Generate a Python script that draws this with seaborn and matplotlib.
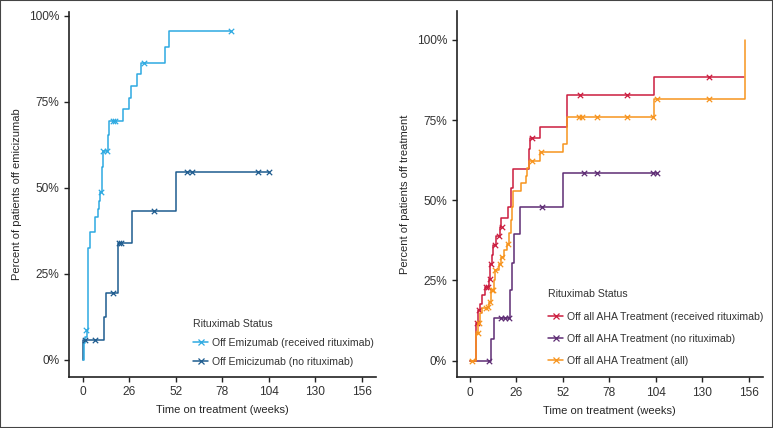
import matplotlib
matplotlib.use("Agg")
import matplotlib.pyplot as plt
import seaborn as sns
import numpy as np
import pandas as pd
from matplotlib.lines import Line2D
from matplotlib.ticker import PercentFormatter
from matplotlib.patches import Rectangle

# ============================================================================
# DATA (weeks, percent off)
# ============================================================================

# Left panel: off emicizumab
emi_rtx_t = [0, 0.3, 0.7, 1.2, 2.0, 2.8, 3.9, 6.8, 8.2, 9.1, 9.5, 10.4, 11.0, 13.8, 14.5,
             22.2, 25.9, 27.0, 30.4, 32.6, 45.9, 48.0, 82.6]
emi_rtx_y = [0, 3.0, 5.0, 6.8, 8.8, 32.5, 37.1, 41.5, 43.9, 46.3, 48.7, 56.0, 60.8, 65.5, 69.5,
             72.9, 76.1, 79.5, 83.0, 86.4, 90.9, 95.6, 95.6]
emi_rtx_cens_t = [1.6, 9.9, 11.4, 13.2, 16.6, 17.9, 34.0, 82.6]
emi_rtx_cens_y = [8.8, 48.7, 60.8, 60.8, 69.5, 69.5, 86.4, 95.6]

emi_no_t = [0, 0.2, 11.9, 12.9, 19.7, 27.4, 52.0, 103.9]
emi_no_y = [0, 5.8, 12.5, 19.4, 33.9, 43.3, 54.7, 54.7]
emi_no_cens_t = [1.0, 6.9, 16.9, 20.1, 21.2, 39.7, 58.0, 61.1, 97.7, 103.9]
emi_no_cens_y = [5.8, 5.8, 19.4, 33.9, 33.9, 43.3, 54.7, 54.7, 54.7, 54.7]

# Right panel: off all AHA treatment
aha_rtx_t = [0, 3.2, 3.5, 4.7, 5.6, 6.9, 8.4, 10.8, 11.2, 12.5, 13.0, 14.5, 16.8, 17.3,
             21.1, 22.9, 24.2, 32.8, 33.6, 39.1, 54.1, 103.1, 153.4]
aha_rtx_y = [0, 5.4, 11.7, 15.8, 17.7, 20.5, 23.1, 25.4, 30.2, 32.9, 35.9, 38.7, 41.5, 44.6,
             47.8, 53.8, 59.8, 66.0, 69.3, 72.7, 82.9, 88.5, 88.5]
aha_rtx_cens_t = [3.7, 5.2, 9.0, 10.3, 11.0, 11.7, 14.0, 16.4, 17.7, 34.5, 61.5, 87.6, 133.5]
aha_rtx_cens_y = [11.7, 15.8, 23.1, 23.1, 25.4, 30.2, 35.9, 38.7, 41.5, 69.3, 82.9, 82.9, 88.5]

aha_no_t = [0, 11.7, 13.2, 22.4, 23.7, 24.6, 27.9, 52.2, 104.4]
aha_no_y = [0, 6.7, 13.4, 22.0, 30.4, 39.4, 48.0, 58.4, 58.4]
aha_no_cens_t = [10.8, 17.3, 19.8, 22.0, 40.1, 63.8, 70.9, 102.2, 104.4]
aha_no_cens_y = [0, 13.4, 13.4, 13.4, 48.0, 58.4, 58.4, 58.4, 58.4]

aha_all_t = [0, 3.2, 3.6, 4.6, 5.6, 6.5, 9.8, 10.8, 11.6, 13.6, 13.9, 16.4, 17.5, 19.2,
             20.5, 22.0, 22.8, 23.7, 24.2, 28.3, 31.1, 32.0, 33.0, 39.1, 52.2, 54.1,
             103.1, 153.8, 153.8]
aha_all_y = [0, 5.4, 8.5, 11.7, 14.8, 16.3, 16.6, 18.2, 22.0, 25.0, 28.1, 30.2, 32.4, 34.5,
             36.4, 39.7, 43.9, 48.0, 53.0, 55.3, 57.5, 60.0, 62.3, 65.0, 67.5, 75.8,
             81.7, 81.7, 100.0]
aha_all_cens_t = [0.9, 4.3, 5.2, 9.0, 10.3, 11.2, 12.3, 13.0, 14.2, 17.0, 17.9, 21.4,
                  34.5, 40.0, 61.2, 62.8, 71.2, 87.6, 102.5, 104.4, 133.7]
aha_all_cens_y = [0, 8.5, 11.7, 16.3, 16.6, 18.2, 22.0, 22.0, 28.1, 30.2, 32.4, 36.4,
                  62.3, 65.0, 75.8, 75.8, 75.8, 75.8, 75.8, 81.7, 81.7]

x_ticks = [0, 26, 52, 78, 104, 130, 156]
y_ticks = [0, 25, 50, 75, 100]

C_LIGHT = "#2EAAE1"
C_DARK = "#1E5C8F"
C_RED = "#CC1D3F"
C_PURPLE = "#5E2C74"
C_ORANGE = "#F7941E"

# ============================================================================
# STYLE
# ============================================================================

sns.set_style("ticks")
plt.rcParams['font.family'] = ['Liberation Sans', 'DejaVu Sans']
plt.rcParams['axes.edgecolor'] = '#222222'
plt.rcParams['xtick.color'] = '#222222'
plt.rcParams['ytick.color'] = '#222222'

fig = plt.figure(figsize=(7.73, 4.28), dpi=100)
ax1 = fig.add_axes([0.0893, 0.1199, 0.3968, 0.852])
ax2 = fig.add_axes([0.5908, 0.1185, 0.3959, 0.8558])


def km_curve(ax, t, y, ct, cy, color, z=2):
    sns.lineplot(x=t, y=y, drawstyle='steps-post', color=color, lw=1.1, ax=ax,
                 estimator=None, sort=False, zorder=z)
    sns.scatterplot(x=ct, y=cy, marker='x', color=color, s=15, linewidth=0.9, ax=ax,
                    zorder=z + 1)


km_curve(ax1, emi_no_t, emi_no_y, emi_no_cens_t, emi_no_cens_y, C_DARK)
km_curve(ax1, emi_rtx_t, emi_rtx_y, emi_rtx_cens_t, emi_rtx_cens_y, C_LIGHT)

km_curve(ax2, aha_no_t, aha_no_y, aha_no_cens_t, aha_no_cens_y, C_PURPLE)
km_curve(ax2, aha_rtx_t, aha_rtx_y, aha_rtx_cens_t, aha_rtx_cens_y, C_RED)
km_curve(ax2, aha_all_t, aha_all_y, aha_all_cens_t, aha_all_cens_y, C_ORANGE, z=4)

ax1.set_xlim(-7.8, 163.7)
ax1.set_ylim(-4.85, 101.1)
ax2.set_xlim(-7.4, 163.7)
ax2.set_ylim(-5.2, 109.0)

for ax, ylab in [(ax1, 'Percent of patients off emicizumab'),
                 (ax2, 'Percent of patients off treatment')]:
    ax.set_xticks(x_ticks)
    ax.set_yticks(y_ticks)
    ax.yaxis.set_major_formatter(PercentFormatter(decimals=0))
    ax.tick_params(labelsize=8.6, length=3.5, width=1.0, labelcolor='#333333')
    for s in ['left', 'bottom']:
        ax.spines[s].set_linewidth(1.2)
    sns.despine(ax=ax)
    ax.set_xlabel('Time on treatment (weeks)', fontsize=8, labelpad=5)
    ax.set_ylabel(ylab, fontsize=8, labelpad=5)


def make_legend(ax, labels, colors, anchor, spacing):
    handles = [Line2D([0], [0], color=c, lw=1.1, marker='x', markersize=4, mew=0.9)
               for c in colors]
    leg = ax.legend(handles, labels, title='Rituximab Status', loc='upper left',
                    bbox_to_anchor=anchor, frameon=False, fontsize=7.6, title_fontsize=7.6,
                    handlelength=1.4, handletextpad=0.4, labelspacing=spacing,
                    borderpad=0, borderaxespad=0, alignment='left')
    leg.get_title().set_color('#333333')
    for txt in leg.get_texts():
        txt.set_color('#333333')
    return leg


make_legend(ax1, ['Off Emizumab (received rituximab)', 'Off Emicizumab (no rituximab)'],
            [C_LIGHT, C_DARK], (0.405, 0.158), 0.85)
make_legend(ax2, ['Off all AHA Treatment (received rituximab)',
                  'Off all AHA Treatment (no rituximab)',
                  'Off all AHA Treatment (all)'],
            [C_RED, C_PURPLE, C_ORANGE], (0.30, 0.24), 1.15)

# outer frame
fig.patches.append(Rectangle((0, 0), 1, 1, transform=fig.transFigure, fill=False,
                             edgecolor='#444444', lw=1.5))

plt.savefig('out.png', dpi=100)
